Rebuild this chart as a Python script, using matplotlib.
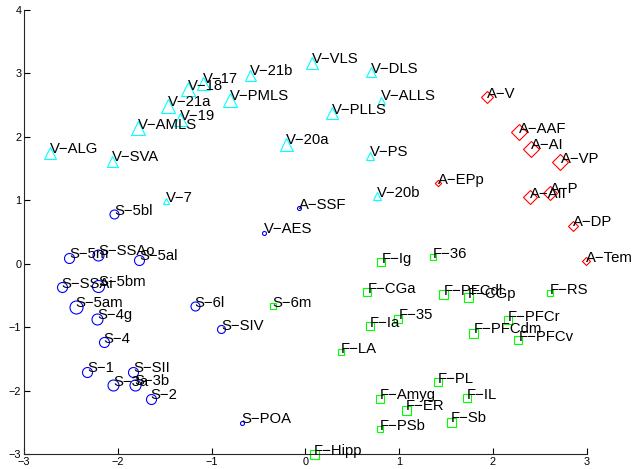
import numpy as np
import matplotlib
matplotlib.use('AGG')
from matplotlib import pyplot as plt

plt.rcParams['font.family'] = ['Liberation Sans', 'DejaVu Sans']

# visual areas
vis_names = ['V-ALG', 'V-SVA', 'V-AMLS', 'V-21a', 'V-19', 'V-18', 'V-17', 'V-PMLS',
             'V-21b', 'V-20a', 'V-VLS', 'V-DLS', 'V-ALLS', 'V-PLLS', 'V-PS', 'V-20b', 'V-7']
vis_x = [-2.72, -2.06, -1.79, -1.47, -1.34, -1.25, -1.09, -0.80,
         -0.59, -0.21, 0.07, 0.70, 0.81, 0.28, 0.69, 0.76, -1.49]
vis_y = [1.75, 1.62, 2.13, 2.49, 2.28, 2.75, 2.85, 2.58,
         2.98, 1.89, 3.17, 3.02, 2.58, 2.37, 1.70, 1.06, 0.98]
vis_w = [12, 11, 14, 14, 13, 14, 13, 14, 11, 13, 12, 10, 7, 12, 8, 8, 6]

# somatosensory cluster
som_names = ['V-AES', 'A-SSF', 'S-5bl', 'S-5m', 'S-SSAo', 'S-5al', 'S-SSAi', 'S-5bm',
             'S-5am', 'S-4g', 'S-4', 'S-6l', 'S-SIV', 'S-1', 'S-SII', 'S-3a', 'S-3b',
             'S-2', 'S-POA']
som_x = [-0.44, -0.07, -2.04, -2.52, -2.21, -1.77, -2.60, -2.21,
         -2.45, -2.22, -2.15, -1.18, -0.90, -2.33, -1.84, -2.05, -1.82,
         -1.65, -0.68]
som_y = [0.49, 0.87, 0.78, 0.09, 0.14, 0.06, -0.37, -0.35,
         -0.68, -0.87, -1.24, -0.67, -1.03, -1.70, -1.70, -1.92, -1.91,
         -2.13, -2.51]
som_w = [4, 4, 9, 10, 11, 10, 10, 12, 13, 11, 10, 9, 8, 10, 10, 11, 11, 10, 4]

# auditory cluster
aud_names = ['A-V', 'A-AAF', 'A-AI', 'A-VP', 'A-AII', 'A-P', 'A-DP', 'A-Tem', 'A-EPp']
aud_x = [1.94, 2.28, 2.41, 2.72, 2.39, 2.61, 2.85, 2.99, 1.41]
aud_y = [2.62, 2.07, 1.81, 1.60, 1.05, 1.12, 0.60, 0.04, 1.27]
aud_w = [12, 15, 15, 16, 14, 14, 10, 8, 6]

# fronto-limbic cluster
fro_names = ['S-6m', 'F-Ig', 'F-36', 'F-CGa', 'F-PFCdl', 'F-CGp', 'F-RS', 'F-35',
             'F-Ia', 'F-LA', 'F-PFCr', 'F-PFCdm', 'F-PFCv', 'F-PL', 'F-Amyg', 'F-IL',
             'F-ER', 'F-Sb', 'F-PSb', 'F-Hipp']
fro_x = [-0.35, 0.81, 1.36, 0.66, 1.47, 1.73, 2.61, 0.99,
         0.69, 0.38, 2.16, 1.79, 2.27, 1.41, 0.79, 1.72,
         1.07, 1.55, 0.79, 0.09]
fro_y = [-0.67, 0.02, 0.10, -0.45, -0.48, -0.53, -0.47, -0.87,
         -0.99, -1.40, -0.89, -1.09, -1.21, -1.87, -2.13, -2.12,
         -2.30, -2.49, -2.61, -3.00]
fro_w = [6, 8, 7, 8, 10, 10, 6, 8, 8, 7, 8, 10, 9, 9, 9, 9, 10, 10, 7, 10]

groups = [
    (vis_names, vis_x, vis_y, vis_w, '^', (0, 1, 1), 1.0),
    (som_names, som_x, som_y, som_w, 'o', (0, 0, 1), 1.0),
    (aud_names, aud_x, aud_y, aud_w, 'D', (1, 0, 0), 0.75),
    (fro_names, fro_x, fro_y, fro_w, 's', (0, 1, 0), 0.9),
]

fig = plt.figure(figsize=(6.35, 4.69), dpi=100)
ax = fig.add_axes([0.038, 0.032, 0.886, 0.947])

px2pt = 72.0 / fig.dpi
for names, xs, ys, ws, mk, col, k in groups:
    for name, x, y, w in zip(names, xs, ys, ws):
        ax.plot(x, y, marker=mk, ms=w * k * px2pt, mfc='none', mec=col,
                mew=0.8, ls='none', clip_on=False, zorder=2)
        ax.annotate(name.replace('-', '\u2212'), (x, y), xytext=(0, 2.5),
                    textcoords='offset points', ha='left', va='center',
                    fontsize=10.7, color='black', zorder=3, annotation_clip=False)

ax.set_xlim(-3, 3)
ax.set_ylim(-3, 4)
ax.set_xticks(np.arange(-3, 4))
ax.set_yticks(np.arange(-3, 5))
ax.set_xticklabels([str(v).replace('-', '\u2212') for v in range(-3, 4)])
ax.set_yticklabels([str(v).replace('-', '\u2212') for v in range(-3, 5)])
ax.tick_params(direction='in', length=4, width=0.8, labelsize=7.8, pad=2)
ax.spines['top'].set_visible(False)
ax.spines['right'].set_visible(False)
for s in ('left', 'bottom'):
    ax.spines[s].set_linewidth(0.8)
    ax.spines[s].set_color('#262626')

fig.savefig('out.png', dpi=100)
